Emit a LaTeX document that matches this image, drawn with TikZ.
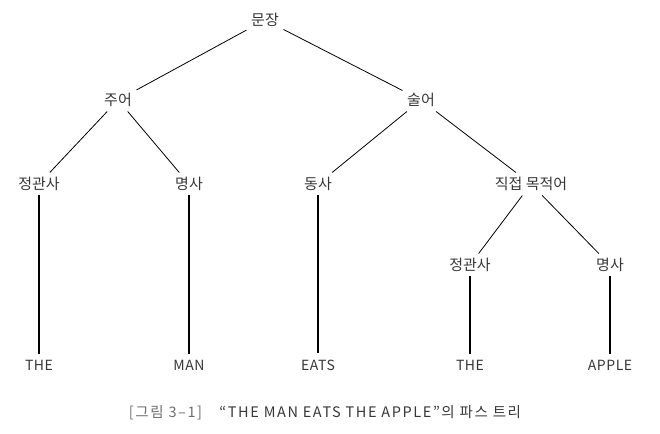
\documentclass[tikz,border=0pt]{standalone}
\usepackage{fontspec}
\setmainfont{Noto Sans CJK KR}
\usetikzlibrary{positioning}
\definecolor{inkgray}{RGB}{55,55,55}
\definecolor{capgray}{RGB}{110,110,110}
\tikzset{
  phrase/.style={inner sep=4.5pt, text=inkgray, font=\fontsize{15}{17}\selectfont},
  word/.style={inner sep=6pt, text=inkgray, font=\fontsize{14}{16}\selectfont\addfontfeature{LetterSpace=4}},
  branch/.style={draw=black, line width=0.8pt},
  stem/.style={draw=black, line width=2.6pt},
  caption/.style={text=inkgray, font=\fontsize{14.5}{16}\selectfont\addfontfeature{LetterSpace=11}}
}
\begin{document}
\begin{tikzpicture}[x=1pt,y=-1pt]
\useasboundingbox (0,0) rectangle (660,433);
\node[phrase] (s) at (265,20) {문장};
\node[phrase] (np) at (118,100) {주어};
\node[phrase] (vp) at (421,100) {술어};
\node[phrase] (det1) at (39,184) {정관사};
\node[phrase] (n1) at (189,184) {명사};
\node[phrase] (v) at (318,184) {동사};
\node[phrase] (obj) at (531,184) {직접 목적어};
\node[phrase] (det2) at (470,265) {정관사};
\node[phrase] (n2) at (610,265) {명사};

\node[word] (w1) at (39,365) {THE};
\node[word] (w2) at (189,365) {MAN};
\node[word] (w3) at (318,365) {EATS};
\node[word] (w4) at (470,365) {THE};
\node[word] (w5) at (610,365) {APPLE};

\draw[branch] (s)--(np);
\draw[branch] (s)--(vp);
\draw[branch] (np)--(det1);
\draw[branch] (np)--(n1);
\draw[branch] (vp)--(v);
\draw[branch] (vp)--(obj);
\draw[branch] (obj)--(det2);
\draw[branch] (obj)--(n2);

\draw[stem] (det1.south)--(w1.north);
\draw[stem] (n1.south)--(w2.north);
\draw[stem] (v.south)--(w3.north);
\draw[stem] (det2.south)--(w4.north);
\draw[stem] (n2.south)--(w5.north);

\node[caption] (cap) at (325,413) {\textcolor{capgray}{[그림 3–1]}\hspace{1.2em}“THE MAN EATS THE APPLE”의 파스 트리};
\end{tikzpicture}
\end{document}
